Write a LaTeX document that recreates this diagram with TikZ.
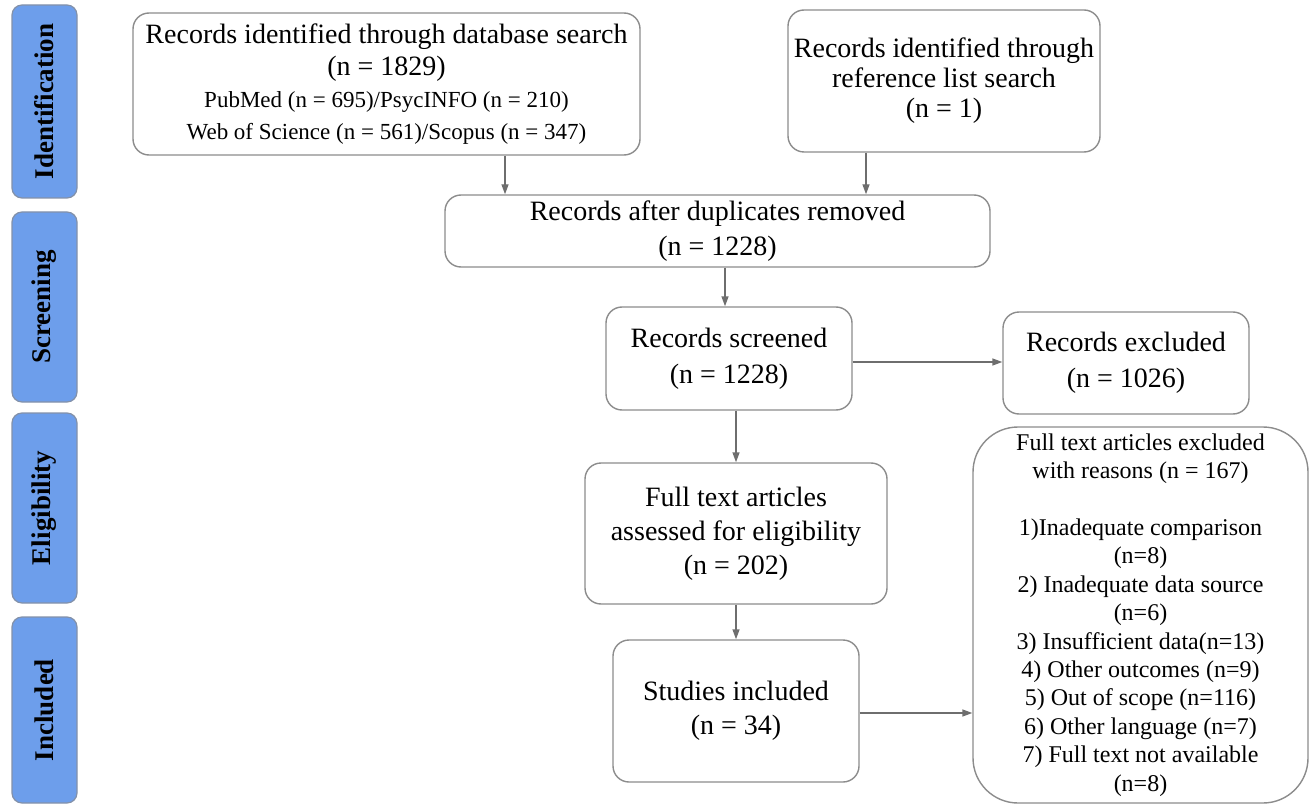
\documentclass[tikz,border=0pt]{standalone}
\usepackage{fontspec}
\setmainfont{Liberation Serif}
\usetikzlibrary{arrows.meta}
\definecolor{boxgray}{HTML}{8C8C8C}
\definecolor{arrgray}{HTML}{6E6E6E}
\definecolor{phaseblue}{HTML}{6D9EEB}
\newcommand{\fs}[2]{\fontsize{#1}{#2}\selectfont}

\begin{document}
\begin{tikzpicture}[x=1pt,y=-1pt,
    box/.style={draw=boxgray,line width=1.4pt,rounded corners=16pt,fill=white,align=center,inner sep=0pt},
    phase/.style={draw=boxgray!70!phaseblue,fill=phaseblue,line width=1.2pt,rounded corners=10pt,
        rotate=90,minimum height=65pt,inner sep=0pt,font=\bfseries\fs{27}{27}},
    arr/.style={draw=arrgray,line width=1.4pt,-{Triangle[length=10pt,width=7pt]}}]
    \useasboundingbox (0,0) rectangle (1309,805);
    % phases
    \node[phase,minimum width=193pt] (pid) at (44.5,101.5) {Identification};
    \node[phase,minimum width=190pt] (psc) at (44.5,307) {Screening};
    \node[phase,minimum width=190pt] (pel) at (44.5,508) {Eligibility};
    \node[phase,minimum width=186pt] (pin) at (44.5,710) {Included};
    % boxes
    \node[box,minimum width=507pt,minimum height=142pt,font=\fs{28}{32}] (db) at (386.5,84)
        {Records identified through database search\\(n = 1829)\\
         \fs{23}{30}PubMed (n = 695)/PsycINFO (n = 210)\\\fs{23}{30}Web of Science (n = 561)/Scopus (n = 347)};
    \node[box,minimum width=312pt,minimum height=142pt,font=\fs{28}{30}] (ref) at (944,81)
        {Records identified through\\reference list search\\(n = 1)};
    \node[box,minimum width=545pt,minimum height=72pt,font=\fs{28}{35}] (dup) at (717.5,231)
        {Records after duplicates removed\\(n = 1228)};
    \node[box,minimum width=246pt,minimum height=103pt,font=\fs{28}{36}] (scr) at (729,358.5)
        {Records screened\\(n = 1228)};
    \node[box,minimum width=246pt,minimum height=102pt,font=\fs{28}{36}] (exc) at (1126,363)
        {Records excluded\\(n = 1026)};
    \node[box,minimum width=302pt,minimum height=141pt,font=\fs{28}{34}] (full) at (736,533.5)
        {Full text articles\\assessed for eligibility\\(n = 202)};
    \node[box,minimum width=246pt,minimum height=142pt,font=\fs{28}{34}] (inc) at (736,711)
        {Studies included\\(n = 34)};
    \node[box,rounded corners=45pt,minimum width=335pt,minimum height=376pt,font=\fs{24}{28.4}] (why) at (1140.5,615)
        {Full text articles excluded\\with reasons (n = 167)\\[28.4pt]
         1)Inadequate comparison\\(n=8)\\2) Inadequate data source\\(n=6)\\
         3) Insufficient data(n=13)\\4) Other outcomes (n=9)\\5) Out of scope (n=116)\\
         6) Other language (n=7)\\7) Full text not available\\(n=8)};
    % arrows
    \draw[arr] (505,0 |- db.south) -- (505,0 |- dup.north);
    \draw[arr] (866,0 |- ref.south) -- (866,0 |- dup.north);
    \draw[arr] (725,0 |- dup.south) -- (725,0 |- scr.north);
    \draw[arr] (scr.east |- 0,362) -- (exc.west |- 0,362);
    \draw[arr] (736,0 |- scr.south) -- (736,0 |- full.north);
    \draw[arr] (full.south) -- (inc.north);
    \draw[arr] (inc.east |- 0,713) -- (why.west |- 0,713);
\end{tikzpicture}
\end{document}
